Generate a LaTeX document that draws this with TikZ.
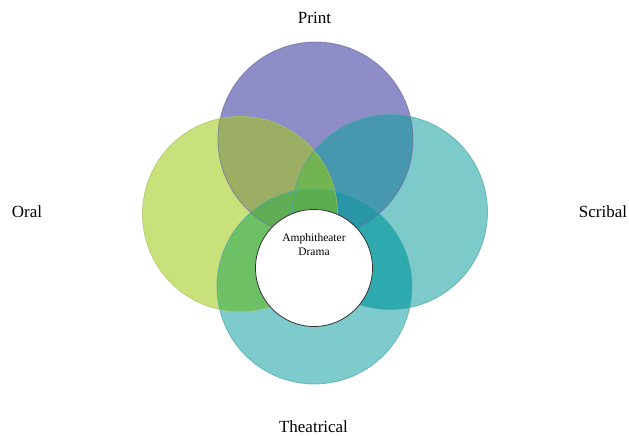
\documentclass[tikz,border=0pt]{standalone}
\usepackage{fontspec}
\setmainfont{Liberation Serif}
\definecolor{cPa}{HTML}{8F8DC7}
\definecolor{cOa}{HTML}{C9E17B}
\definecolor{cSa}{HTML}{7DCACB}
\definecolor{cTa}{HTML}{7DCBCD}
\definecolor{cPO}{HTML}{9BAE63}
\definecolor{cPS}{HTML}{4797AF}
\definecolor{cOS}{HTML}{6EBD55}
\definecolor{cOT}{HTML}{6DC063}
\definecolor{cST}{HTML}{2EA9AD}
\definecolor{cPT}{HTML}{6FA8C0}
\definecolor{cPOS}{HTML}{72B450}
\definecolor{cPOT}{HTML}{5FAE55}
\definecolor{cPST}{HTML}{2996A8}
\definecolor{cOST}{HTML}{5DB54F}
\definecolor{cPOST}{HTML}{5AAE50}
\definecolor{lP}{HTML}{6E6CA6}
\definecolor{lO}{HTML}{A8C060}
\definecolor{lS}{HTML}{4FA6A8}
\definecolor{lT}{HTML}{4FA8AA}
\tikzset{
  ring/.style={circle, minimum size=195pt, inner sep=0pt, draw=#1, line width=0.8pt},
  lab/.style={font=\fontsize{17}{20}\selectfont, inner sep=0pt},
}
\newcommand{\rP}{(cP) circle[radius=97.5pt]}
\newcommand{\rO}{(cO) circle[radius=97.5pt]}
\newcommand{\rS}{(cS) circle[radius=97.5pt]}
\newcommand{\rT}{(cT) circle[radius=97.5pt]}
\begin{document}
\begin{tikzpicture}[x=1pt,y=-1pt]
\useasboundingbox (0,0) rectangle (629,436);
\coordinate (cP) at (315.5,139.5);
\coordinate (cO) at (240,214);
\coordinate (cS) at (390,212);
\coordinate (cT) at (314.5,286.5);
% single fills
\fill[cPa] \rP;
\fill[cOa] \rO;
\fill[cSa] \rS;
\fill[cTa] \rT;
% pairs
\begin{scope}\clip \rP; \fill[cPO] \rO; \fill[cPS] \rS; \fill[cPT] \rT; \end{scope}
\begin{scope}\clip \rO; \fill[cOS] \rS; \fill[cOT] \rT; \end{scope}
\begin{scope}\clip \rS; \fill[cST] \rT; \end{scope}
% triples
\begin{scope}\clip \rP; \clip \rO; \fill[cPOS] \rS; \fill[cPOT] \rT; \end{scope}
\begin{scope}\clip \rP; \clip \rS; \fill[cPST] \rT; \end{scope}
\begin{scope}\clip \rO; \clip \rS; \fill[cOST] \rT; \end{scope}
% quadruple
\begin{scope}\clip \rP; \clip \rO; \clip \rS; \fill[cPOST] \rT; \end{scope}
% outlines
\node[ring=lP, draw opacity=0.7] (print) at (cP) {};
\node[ring=lO, draw opacity=0.7] (oral) at (cO) {};
\node[ring=lS, draw opacity=0.7] (scribal) at (cS) {};
\node[ring=lT, draw opacity=0.7] (theatrical) at (cT) {};
% centre
\node[circle, fill=white, draw=black!80, line width=0.8pt, minimum size=117pt, inner sep=0pt] (drama) at (314,268) {};
\node[font=\fontsize{11.5}{14}\selectfont, align=center, inner sep=0pt] (dramatext) at (314,245) {Amphitheater\\Drama};
% labels
\node[lab] (lprint) at (314.5,18) {Print};
\node[lab] (loral) at (27,212) {Oral};
\node[lab] (lscribal) at (603,212) {Scribal};
\node[lab] (ltheatrical) at (313.5,427) {Theatrical};
\end{tikzpicture}
\end{document}
